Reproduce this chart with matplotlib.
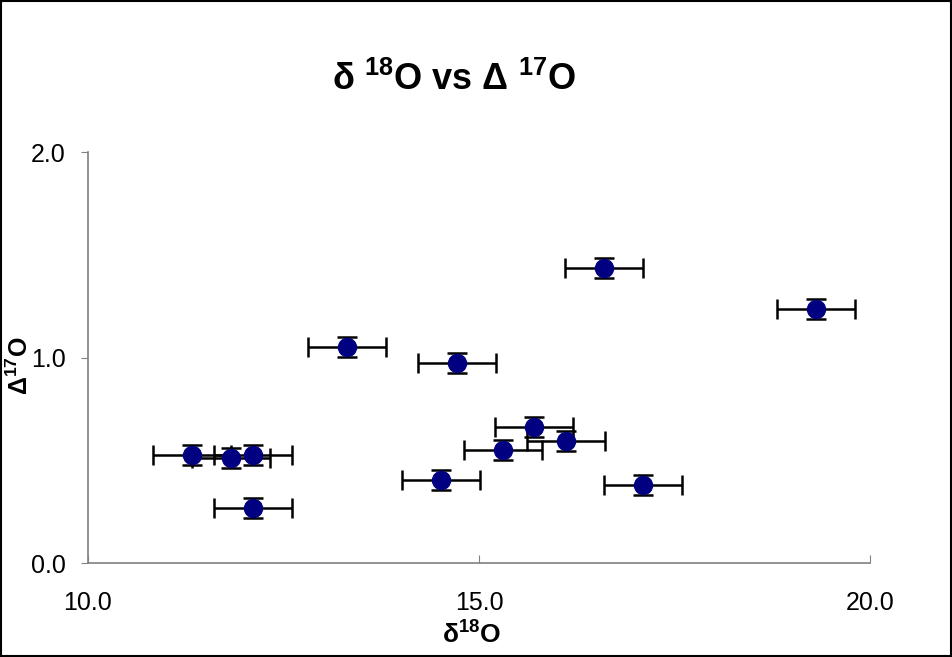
import matplotlib
matplotlib.use("Agg")
import matplotlib.pyplot as plt
from matplotlib.patches import Rectangle

plt.rcParams["font.family"] = ["Liberation Sans", "DejaVu Sans"]
plt.rcParams["mathtext.fontset"] = "custom"
plt.rcParams["mathtext.rm"] = "Liberation Sans"
plt.rcParams["mathtext.bf"] = "Liberation Sans:bold"

d18O = [11.33, 11.83, 12.11, 12.11, 13.31, 14.72, 14.51, 15.31, 15.70, 16.11, 16.60, 17.10, 19.31]
D17O = [0.526, 0.511, 0.526, 0.268, 1.051, 0.973, 0.404, 0.550, 0.662, 0.594, 1.435, 0.380, 1.236]
d18O_err = [0.5] * 13
D17O_err = [0.05] * 13
x_ticks = [10.0, 15.0, 20.0]
y_ticks = [0.0, 1.0, 2.0]

fig = plt.figure(figsize=(9.52, 6.57), dpi=100)
ax = fig.add_axes([0.0924, 0.143, 0.8216, 0.6256])

ax.errorbar(d18O, D17O, xerr=d18O_err, yerr=D17O_err, fmt="o", color="#000080",
            markersize=13, ecolor="black", elinewidth=1.8, capsize=7, capthick=1.8,
            zorder=3)

ax.set_xlim(10, 20)
ax.set_ylim(0, 2)
ax.set_xticks(x_ticks)
ax.set_yticks(y_ticks)
ax.set_xticklabels([f"{v:.1f}" for v in x_ticks])
ax.set_yticklabels([f"{v:.1f}" for v in y_ticks])
ax.tick_params(axis="y", direction="out", length=5, color="#808080", pad=11, labelsize=18)
ax.tick_params(axis="x", direction="in", length=6, color="#808080", pad=20, labelsize=18)
for s in ["top", "right"]:
    ax.spines[s].set_visible(False)
for s in ["left", "bottom"]:
    ax.spines[s].set_color("#808080")
    ax.spines[s].set_linewidth(1.2)

fig.text(0.477, 0.878, r"δ $^{\mathbf{18}}$O vs Δ $^{\mathbf{17}}$O", fontsize=26,
         fontweight="bold", ha="center", va="center")
fig.text(0.495, 0.036, r"δ$^{\mathbf{18}}$O", fontsize=19, fontweight="bold",
         ha="center", va="center")
fig.text(0.021, 0.444, r"Δ$^{\mathbf{17}}$O", fontsize=18, fontweight="bold",
         ha="center", va="center", rotation=90)

fig.patches.append(Rectangle((0.001, 0.001), 0.998, 0.998, transform=fig.transFigure,
                             fill=False, edgecolor="black", linewidth=1.5))

fig.savefig("out.png", dpi=100)
